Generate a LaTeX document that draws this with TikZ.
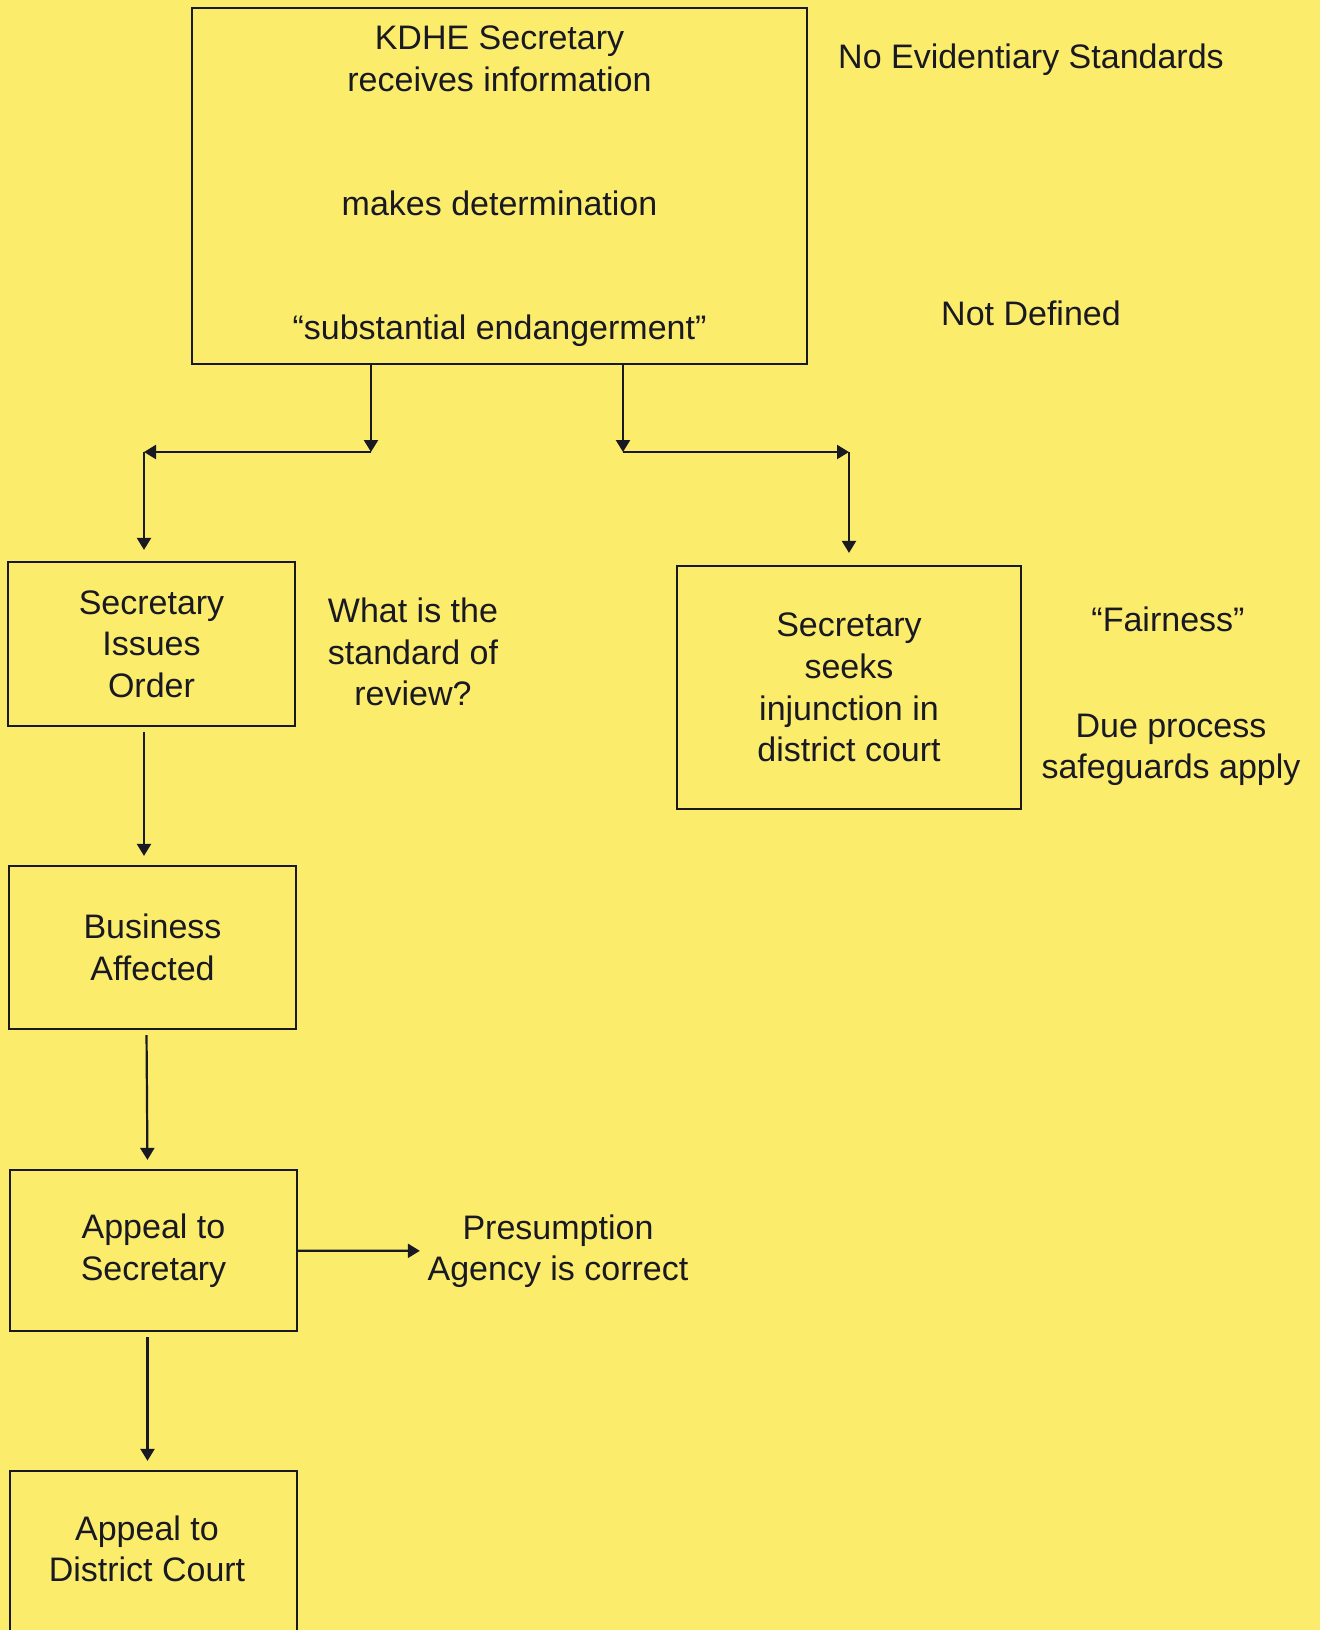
\documentclass[tikz,border=0pt]{standalone}
\usepackage{fontspec}
\setmainfont{Liberation Sans}
\usetikzlibrary{arrows.meta}
\definecolor{pagebg}{RGB}{251,236,107}
\definecolor{ink}{RGB}{25,25,35}
\tikzset{every picture/.style={line width=1.1pt}}
\begin{document}
\begin{tikzpicture}[x=0.5pt,y=0.5pt,yscale=-1,xscale=1,
  box/.style={draw=ink, inner sep=0pt, align=center, text=ink, font=\fontsize{17}{20.8}\selectfont},
  note/.style={align=center, text=ink, font=\fontsize{17}{20.8}\selectfont},
  arr/.style={draw=ink, -{Triangle[width=7pt,length=6pt]}}]
%set diagram left start at 0, and has height of 1630
\fill[pagebg] (0,0) rectangle (1320,1630);
\useasboundingbox (0,0) rectangle (1320,1630);

% Text Node
\node[box, minimum width=307.5pt, minimum height=178pt] (kdhe) at (499.5,186) {KDHE Secretary\\receives information\\[41.5pt]makes determination\\[41pt]“substantial endangerment”};
% Text Node
\node[note] (noev) at (1031,60) {No Evidentiary Standards};
% Text Node
\node[note] (notdef) at (1031,313) {Not Defined};
% Text Node
\node[box, minimum width=143.5pt, minimum height=82pt] (order) at (151.5,644) {Secretary\\Issues\\Order};
% Text Node
\node[note] (review) at (413,652) {What is the\\standard of\\review?};
% Text Node
\node[box, minimum width=172pt, minimum height=121.5pt] (inj) at (849,687.5) {Secretary\\seeks\\injunction in\\district court};
% Text Node
\node[note] (fair) at (1168,619) {“Fairness”};
% Text Node
\node[note] (due) at (1171,750) {Due process\\safeguards apply};
% Text Node
\node[box, minimum width=143.5pt, minimum height=81.5pt] (business) at (152.5,947.5) {Business\\Affected};
% Text Node
\node[box, minimum width=143.5pt, minimum height=80.5pt] (appsec) at (153.5,1250.5) {Appeal to\\Secretary};
% Text Node
\node[note] (presume) at (558,1251) {Presumption\\Agency is correct};
% Text Node
\node[box, minimum width=143.5pt, minimum height=94.5pt] (dcourt) at (153.5,1565.5) {};
\node[note] (dctext) at (147,1549) {Appeal to\\District Court};

% Branch points
\coordinate (jl) at (371,452);
\coordinate (kl) at (144,452);
\coordinate (jr) at (623,452);
\coordinate (kr) at (849,452);

% Connection
\draw[arr] (kdhe.south -| jl) -- (jl);
\draw[arr] (jl) -- (kl);
\draw[arr, shorten >=5.5pt] (kl) -- (kl |- order.north);
% Connection
\draw[arr] (kdhe.south -| jr) -- (jr);
\draw[arr] (jr) -- (kr);
\draw[arr, shorten >=6pt] (kr) -- (inj.north);
% Connection
\draw[arr, shorten <=2.5pt, shorten >=4.5pt] (order.south -| kl) -- (business.north -| kl);
% Connection
\draw[arr, shorten <=2.5pt, shorten >=4.5pt] ([xshift=-3pt]business.south) -- ([xshift=-3pt]appsec.north);
% Connection
\draw[arr] (appsec) -- (presume);
% Connection
\draw[arr, shorten <=2.5pt, shorten >=4.5pt] ([xshift=-3pt]appsec.south) -- ([xshift=-3pt]dcourt.north);

\end{tikzpicture}
\end{document}
